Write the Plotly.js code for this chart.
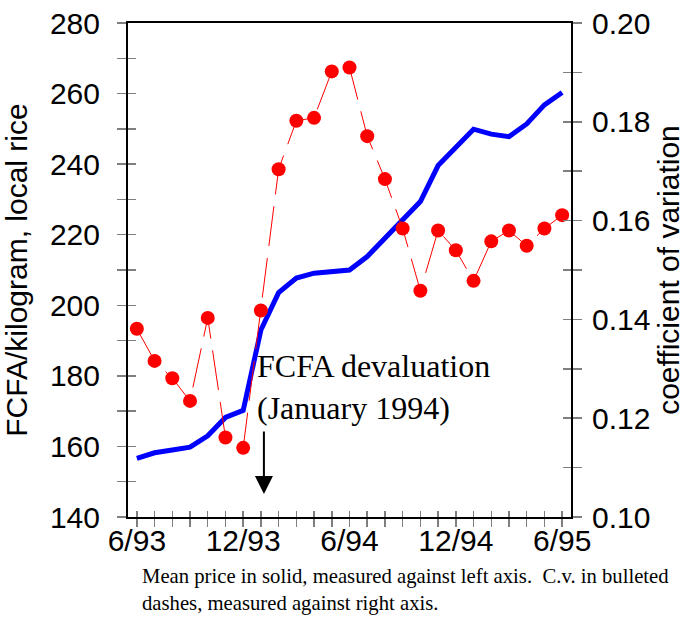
<!DOCTYPE html>
<html>
<head>
<meta charset="utf-8">
<script src="https://cdn.plot.ly/plotly-3.0.1.min.js"></script>
<style>html,body{margin:0;padding:0;background:#fff;}#chart{width:696px;height:625px;}</style>
</head>
<body>
<div id="chart"></div>
<script>
// Months (June 1993 – June 1995)
const months = ['1993-06','1993-07','1993-08','1993-09','1993-10','1993-11','1993-12',
  '1994-01','1994-02','1994-03','1994-04','1994-05','1994-06','1994-07','1994-08',
  '1994-09','1994-10','1994-11','1994-12','1995-01','1995-02','1995-03','1995-04',
  '1995-05','1995-06'];
// Mean price, FCFA/kilogram local rice (left axis)
const meanPrice = [156.6,158.2,159.0,159.8,163.0,168.2,170.2,193.0,203.6,207.7,209.1,209.5,
  210.0,213.8,219.0,224.2,229.4,239.6,245.0,249.9,248.5,247.8,251.4,256.8,260.3];
// Coefficient of variation (right axis)
const coefVar = [0.1381,0.1316,0.1281,0.1235,0.1403,0.1161,0.1140,0.1418,0.1704,0.1802,
  0.1808,0.1902,0.1910,0.1771,0.1684,0.1584,0.1458,0.1580,0.1540,0.1478,0.1558,0.1580,
  0.1549,0.1584,0.1611];
// Labelled x ticks
const xTickVals = ['1993-06','1993-12','1994-06','1994-12','1995-06'];
const xTickText = ['6/93','12/93','6/94','12/94','6/95'];

const sans = 'Liberation Sans, Arial, sans-serif';
const serif = 'Liberation Serif, Times New Roman, serif';
const tickGrey = '#7f7f7f';
const monthIndex = months.map((m, i) => i);

const traces = [
  {x: months, y: meanPrice, type: 'scatter', mode: 'lines', xaxis: 'x', yaxis: 'y',
   line: {color: '#0000ff', width: 5}, hoverinfo: 'skip'},
  {x: months, y: coefVar, type: 'scatter', mode: 'lines+markers', xaxis: 'x', yaxis: 'y2',
   line: {color: '#ff0000', width: 1, dash: '40px,12px'},
   marker: {color: '#ff0000', size: 14}, hoverinfo: 'skip'},
  // draw-nothing helpers so the overlaid tick-only axes (inner half of crossing ticks) are rendered
  {x: monthIndex, y: meanPrice, type: 'scatter', mode: 'none', xaxis: 'x3', yaxis: 'y3', hoverinfo: 'skip'},
  {x: months, y: coefVar, type: 'scatter', mode: 'none', xaxis: 'x', yaxis: 'y4', hoverinfo: 'skip'}
];

const layout = {
  width: 696, height: 625,
  margin: {l: 128, r: 125, t: 23, b: 108},
  paper_bgcolor: '#ffffff', plot_bgcolor: '#ffffff',
  showlegend: false,
  font: {family: sans, size: 30, color: '#000'},
  xaxis: {
    type: 'category', range: [-0.5, 24.5],
    tickmode: 'linear', tick0: 0, dtick: 1,
    ticks: 'outside', ticklen: 8, tickwidth: 1.5, tickcolor: tickGrey,
    showticklabels: false,
    showline: true, linecolor: '#000', linewidth: 2, mirror: true,
    showgrid: false, zeroline: false
  },
  xaxis3: {
    overlaying: 'x', anchor: 'y', range: [-0.5, 24.5],
    tickmode: 'array', tickvals: xTickVals.map(v => months.indexOf(v)), ticktext: xTickText,
    ticks: 'inside', ticklen: 6, tickwidth: 1.5, tickcolor: tickGrey,
    minor: {tickmode: 'linear', tick0: 0, dtick: 1, ticks: 'inside', ticklen: 6, tickwidth: 1.5, tickcolor: tickGrey},
    ticklabelstandoff: 3,
    showticklabels: true, showline: false, showgrid: false, zeroline: false,
    tickfont: {family: sans, size: 30, color: '#000'}
  },
  yaxis: {
    range: [140, 280], tickmode: 'linear', tick0: 140, dtick: 20,
    ticks: 'outside', ticklen: 9, tickwidth: 1.5, tickcolor: tickGrey,
    minor: {tickmode: 'linear', tick0: 140, dtick: 10, ticks: 'outside', ticklen: 9, tickwidth: 1.5, tickcolor: tickGrey},
    ticklabelstandoff: 11,
    showline: true, linecolor: '#000', linewidth: 2,
    showgrid: false, zeroline: false,
    tickfont: {family: sans, size: 30, color: '#000'},
    title: {text: 'FCFA/kilogram, local rice', standoff: 14, font: {family: sans, size: 30, color: '#000'}}
  },
  yaxis3: {
    overlaying: 'y', anchor: 'x', side: 'left', range: [140, 280],
    tickmode: 'linear', tick0: 140, dtick: 10,
    ticks: 'inside', ticklen: 8, tickwidth: 1.5, tickcolor: tickGrey,
    showticklabels: false, showline: false, showgrid: false, zeroline: false
  },
  yaxis2: {
    overlaying: 'y', anchor: 'x', side: 'right', range: [0.10, 0.20],
    tickmode: 'linear', tick0: 0.10, dtick: 0.02, tickformat: '.2f',
    ticks: 'outside', ticklen: 9, tickwidth: 1.5, tickcolor: tickGrey,
    minor: {tickmode: 'linear', tick0: 0.10, dtick: 0.01, ticks: 'outside', ticklen: 9, tickwidth: 1.5, tickcolor: tickGrey},
    ticklabelstandoff: 4,
    showline: true, linecolor: '#000', linewidth: 2,
    showgrid: false, zeroline: false,
    tickfont: {family: sans, size: 30, color: '#000'},
    title: {text: 'coefficient of variation', font: {family: sans, size: 30, color: '#000'}}
  },
  yaxis4: {
    overlaying: 'y', anchor: 'x', side: 'right', range: [0.10, 0.20],
    tickmode: 'linear', tick0: 0.10, dtick: 0.01,
    ticks: 'inside', ticklen: 8, tickwidth: 1.5, tickcolor: tickGrey,
    showticklabels: false, showline: false, showgrid: false, zeroline: false
  },
  annotations: [
    {xref: 'paper', yref: 'paper', x: 0.287, y: 0.263, xanchor: 'left', yanchor: 'middle',
     align: 'left', showarrow: false,
     text: 'FCFA devaluation<br>(January 1994)',
     font: {family: serif, size: 32, color: '#000'}},
    {xref: 'x', yref: 'y', x: 7.17, y: 146.5, text: '', showarrow: true,
     axref: 'pixel', ayref: 'pixel', ax: 0, ay: -64,
     arrowhead: 2, arrowsize: 1.8, arrowwidth: 2, arrowcolor: '#000', standoff: 0},
    {xref: 'paper', yref: 'paper', x: 0.028, y: -0.094, xanchor: 'left', yanchor: 'top',
     align: 'left', showarrow: false,
     text: 'Mean price in solid, measured against left axis.&nbsp; C.v. in bulleted<br>dashes, measured against right axis.',
     font: {family: serif, size: 20.7, color: '#000'}}
  ]
};

Plotly.newPlot('chart', traces, layout, {displayModeBar: false, staticPlot: true});
</script>
</body>
</html>
